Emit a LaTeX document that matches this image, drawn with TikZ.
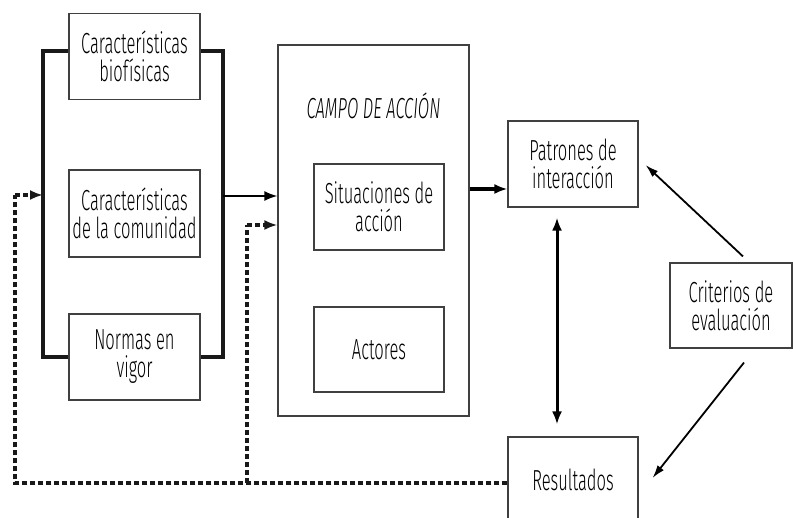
\documentclass[tikz,border=0pt]{standalone}
\usepackage{fontspec}
\setmainfont{Fira Sans}[UprightFont={* Light}, ItalicFont={* Light Italic}, FakeStretch=0.57]
\usetikzlibrary{arrows.meta}

\begin{document}
\begin{tikzpicture}[x=1pt,y=-1pt,>={Latex[length=13pt,width=10pt]},
    box/.style={draw=black!75, line width=1.1pt, align=center, inner sep=0pt, font=\fontsize{29}{28}\selectfont},
    bracket/.style={line width=3.2pt, black!90},
    feedback/.style={line width=3.4pt, dash pattern=on 5pt off 3pt, black!90}]
    \useasboundingbox (0,0) rectangle (793,518);
    \def\brL{43}
    \def\brR{223}
    \def\fbL{15}
    \def\fbM{247}
    \def\fbY{483}

    % left column
    \node[box, minimum width=131pt, minimum height=86pt] (bio) at (134.5,56.5) {Características\\biofísicas};
    \node[box, minimum width=131pt, minimum height=87pt] (com) at (134.5,213.5) {Características\\de la comunidad};
    \node[box, minimum width=131pt, minimum height=86pt] (nor) at (134.5,357) {Normas en\\vigor};

    % action arena
    \node[box, minimum width=191pt, minimum height=371pt] (campo) at (373.5,230.5) {};
    \node[font=\fontsize{29}{28}\selectfont\itshape] (titulo) at (373.5,106) {CAMPO DE ACCIÓN};
    \node[box, minimum width=130pt, minimum height=86pt] (sit) at (379,207) {Situaciones de\\acción};
    \node[box, minimum width=130pt, minimum height=85pt] (act) at (379,349.5) {Actores};

    % right side
    \node[box, minimum width=130pt, minimum height=86pt] (pat) at (573,164) {Patrones de\\interacción};
    \node[box, minimum width=130pt, minimum height=86pt] (res) at (573,480) {Resultados};
    \node[box, minimum width=122pt, minimum height=85pt] (crit) at (731,305.5) {Criterios de\\evaluación};

    % brackets round the left column
    \draw[bracket] (bio.west |- 0,51) -- (\brL,51) -- (\brL,357) -- (nor.west);
    \draw[bracket] (bio.east |- 0,51) -- (\brR,51) -- (\brR,357) -- (nor.east);
    \draw[->, line width=2pt] (\brR,196) -- (campo.west |- 0,196);

    % flows
    \draw[->, line width=3.5pt] (campo.east |- 0,189) -- (pat.west |- 0,189);
    \draw[<->, line width=3pt] ([shift={(-16,10)}]pat.south) -- ([shift={(-16,-12)}]res.north);
    \draw[-{Latex[length=13pt,width=8pt]}, line width=1.8pt] ([shift={(12,-6)}]crit.north) -- ([shift={(7,1)}]pat.east);
    \draw[-{Latex[length=13pt,width=8pt]}, line width=1.8pt] ([shift={(13,14)}]crit.south) -- ([shift={(14,-2)}]res.east);

    % feedback from outcomes
    \draw[feedback] (res.west |- 0,\fbY) -- (\fbL,\fbY) -- (\fbL,195);
    \draw[feedback, ->] (\fbL,195) -- (\brL,195);
    \draw[feedback] (\fbM,\fbY) -- (\fbM,225);
    \draw[feedback, ->] (\fbM,225) -- (campo.west |- 0,225);
\end{tikzpicture}
\end{document}
